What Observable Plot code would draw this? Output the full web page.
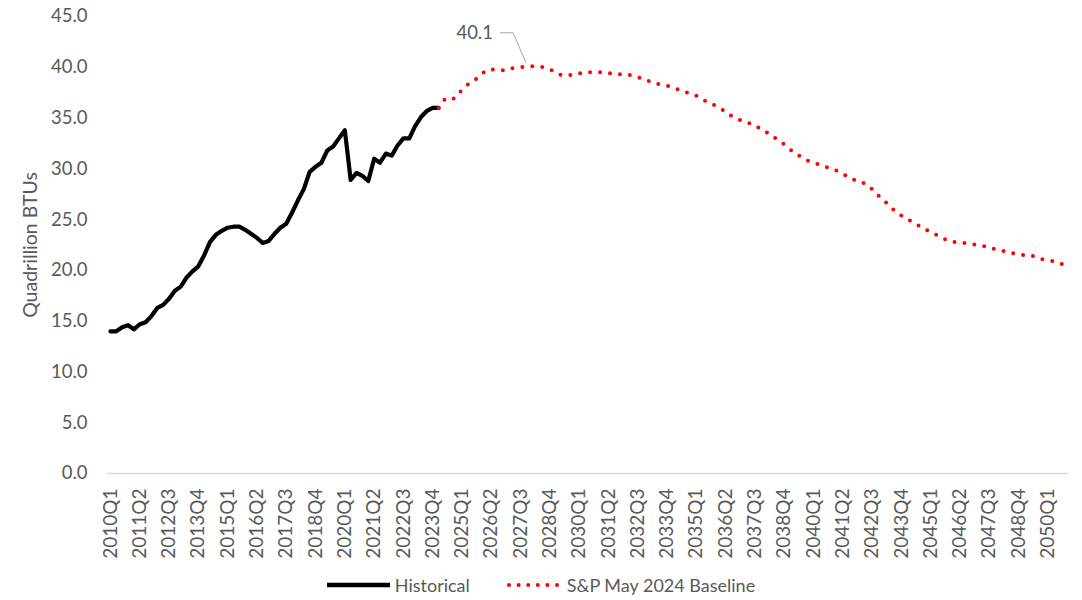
<!DOCTYPE html>
<html>
<head>
<meta charset="utf-8">
<script src="https://cdn.jsdelivr.net/npm/d3@7"></script>
<script src="https://cdn.jsdelivr.net/npm/@observablehq/plot@0.6"></script>
<style>
  html, body { margin: 0; padding: 0; background: #fff; }
  body { width: 1082px; height: 600px; overflow: hidden; font-family: Lato, "Open Sans", sans-serif; }
  #legend { display: flex; justify-content: center; align-items: center; height: 30px; font-size: 18px; color: #595959; }
  #legend .item { display: flex; align-items: center; }
  #legend .item + .item { margin-left: 37px; }
  #legend svg { margin-right: 5px; }
</style>
</head>
<body>
<div id="chart"></div>
<div id="legend"></div>
<script>
// Categories: quarters 2010Q1 .. 2050Q4
const years = d3.range(2010, 2051);
const quarters = years.flatMap(y => [1, 2, 3, 4].map(q => `${y}Q${q}`));
const tickLabels = quarters.filter((d, i) => i % 5 === 0);
const yTicks = [0, 5, 10, 15, 20, 25, 30, 35, 40, 45];

const seriesNames = ["Historical", "S&P May 2024 Baseline"];
const yLabel = "Quadrillion BTUs";

// Historical, 2010Q1 .. 2024Q1
const historical = [
  14.0, 14.0, 14.4, 14.6, 14.2, 14.7, 14.9, 15.5, 16.3, 16.6,
  17.2, 18.0, 18.4, 19.3, 19.9, 20.4, 21.5, 22.8, 23.5, 23.9,
  24.2, 24.3, 24.3, 24.0, 23.6, 23.2, 22.7, 22.9, 23.6, 24.2,
  24.6, 25.7, 26.9, 28.0, 29.7, 30.2, 30.6, 31.8, 32.2, 33.0,
  33.8, 28.9, 29.6, 29.3, 28.8, 31.0, 30.6, 31.5, 31.3, 32.3,
  33.0, 33.0, 34.2, 35.1, 35.7, 36.0, 36.0
];
const forecastStart = "2024Q1";
// S&P May 2024 Baseline, 2024Q1 .. 2050Q4
const forecast = [
  36.0, 36.8, 36.7, 37.1, 37.8, 38.3, 38.6, 39.2, 39.6, 39.8,
  39.7, 39.7, 39.9, 39.9, 40.0, 40.1, 40.1, 40.1, 40.0, 39.8,
  39.5, 39.2, 39.2, 39.3, 39.4, 39.5, 39.5, 39.5, 39.5, 39.4,
  39.4, 39.3, 39.3, 39.2, 39.0, 38.9, 38.6, 38.4, 38.3, 38.2,
  38.0, 37.8, 37.6, 37.4, 37.2, 36.9, 36.5, 36.3, 36.0, 35.6,
  35.2, 34.9, 34.7, 34.5, 34.3, 33.9, 33.6, 33.2, 32.8, 32.4,
  31.9, 31.5, 31.1, 30.8, 30.6, 30.4, 30.2, 30.0, 29.8, 29.5,
  29.2, 28.9, 28.7, 28.5, 28.0, 27.4, 26.9, 26.3, 25.8, 25.4,
  25.1, 24.7, 24.4, 24.1, 23.7, 23.5, 23.2, 22.9, 22.8, 22.7,
  22.7, 22.6, 22.5, 22.4, 22.2, 22.1, 22.0, 21.8, 21.7, 21.6,
  21.5, 21.5, 21.3, 21.1, 21.0, 20.9, 20.7, 20.5
];
const peakQuarter = "2027Q4";
const peakValue = 40.1;
const peakText = "40.1";

const histData = historical.map((v, i) => ({ q: quarters[i], v }));
const fStart = quarters.indexOf(forecastStart);
const fData = forecast.map((v, i) => ({ q: quarters[fStart + i], v }));

const gray = "#595959";

const leader = (index, scales) => {
  const x0 = scales.x(peakQuarter), y0 = scales.y(peakValue);
  const g = d3.create("svg:g");
  g.append("path")
    .attr("d", `M${x0},${y0 - 3}L${x0 - 13},${y0 - 33}L${x0 - 26},${y0 - 33}`)
    .attr("fill", "none").attr("stroke", "#a6a6a6").attr("stroke-width", 1);
  g.append("text")
    .attr("x", x0 - 33).attr("y", y0 - 33).attr("dy", "0.35em")
    .attr("text-anchor", "end").attr("fill", gray)
    .attr("font-size", 18.5).attr("font-family", "Lato")
    .text(peakText);
  return g.node();
};

const chart = Plot.plot({
  width: 1082,
  height: 570,
  marginLeft: 107,
  marginRight: 14,
  marginTop: 16,
  marginBottom: 97,
  style: { fontFamily: "Lato", fontSize: "18.5px", color: gray, background: "#fff" },
  x: { type: "point", domain: quarters, padding: 0.5 },
  y: { domain: [0, 45] },
  marks: [
    Plot.ruleY([0], { stroke: "#d9d9d9", strokeWidth: 1.3 }),
    Plot.axisY({ ticks: yTicks, tickFormat: d => d.toFixed(1), tickSize: 0, tickPadding: 20, label: null, fill: gray, fontSize: 18.5 }),
    Plot.axisX({ ticks: tickLabels, tickSize: 0, tickRotate: -90, tickPadding: 15, label: null, fill: gray, fontSize: 19 }),
    Plot.text([yLabel], { frameAnchor: "left", dx: -77, rotate: -90, textAnchor: "middle", lineAnchor: "middle", fill: gray, fontSize: 19.5 }),
    Plot.line(histData, { x: "q", y: "v", stroke: "#000", strokeWidth: 4.2, strokeLinejoin: "round" }),
    Plot.line(fData, { x: "q", y: "v", stroke: "#ff0000", strokeWidth: 4, strokeDasharray: "0 10", strokeLinecap: "round", strokeLinejoin: "round" }),
    leader
  ]
});
document.getElementById("chart").appendChild(chart);

// Legend
const legend = d3.select("#legend");
const it1 = legend.append("div").attr("class", "item");
const s1 = it1.append("svg").attr("width", 63).attr("height", 10);
s1.append("line").attr("x1", 0).attr("x2", 63).attr("y1", 5).attr("y2", 5).attr("stroke", "#000").attr("stroke-width", 4.5);
it1.append("span").text(seriesNames[0]);
const it2 = legend.append("div").attr("class", "item");
const s2 = it2.append("svg").attr("width", 55).attr("height", 10);
s2.append("line").attr("x1", 2).attr("x2", 55).attr("y1", 5).attr("y2", 5).attr("stroke", "#ff0000").attr("stroke-width", 4)
  .attr("stroke-dasharray", "0 9.6").attr("stroke-linecap", "round");
it2.append("span").text(seriesNames[1]);
</script>
</body>
</html>
